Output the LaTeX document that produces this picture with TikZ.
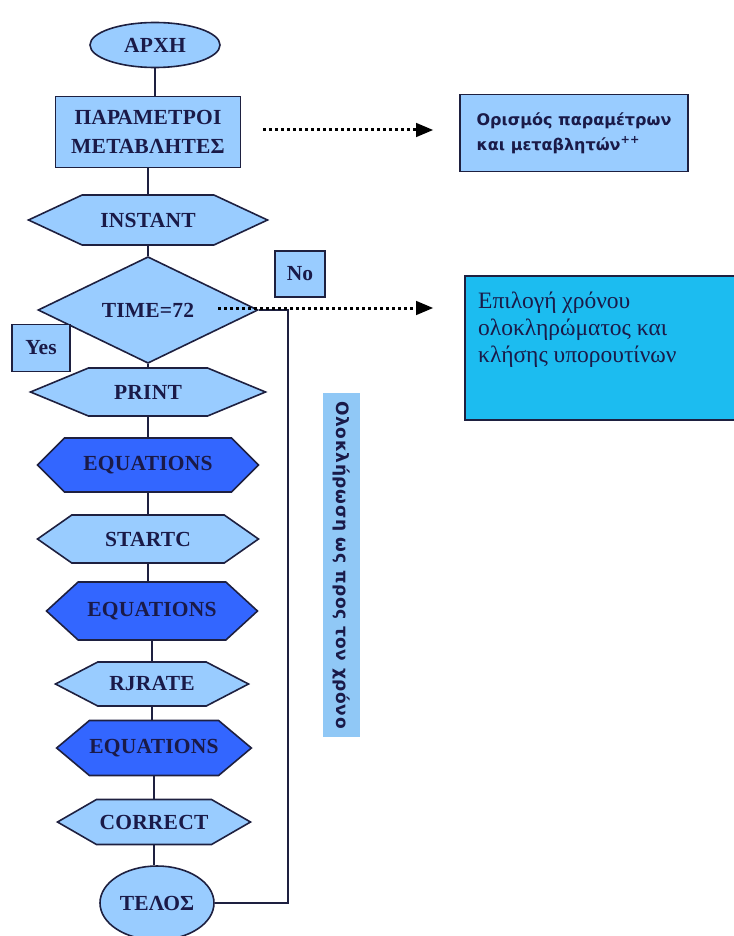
\documentclass[tikz,border=0pt]{standalone}
\usepackage{fontspec}
\setmainfont{Liberation Serif}
\newfontfamily\chainfont[LetterSpace=1]{Liberation Serif}
\newfontfamily\notefont{DejaVu Sans}
\newfontfamily\spanfont[LetterSpace=4]{DejaVu Sans}
\usetikzlibrary{shapes.geometric,shapes.symbols,arrows}
\definecolor{lightblue}{HTML}{99CCFF}
\definecolor{barblue}{HTML}{90C8F6}
\definecolor{deepblue}{HTML}{3366FF}
\definecolor{skycyan}{HTML}{1CBCF0}
\definecolor{edgenavy}{HTML}{1E2040}
\definecolor{textnavy}{HTML}{1A1A48}

\begin{document}
\begin{tikzpicture}[x=1pt, y=-1pt,
  every node/.style={text=textnavy, font=\chainfont\bfseries\fontsize{21.5}{29}\selectfont},
  base/.style={draw=edgenavy, line width=1.6pt, fill=lightblue, inner sep=0pt},
  term/.style={base, ellipse},
  proc/.style={base, rectangle, align=center},
  hexa/.style={base, signal, signal to=east and west},
  cond/.style={base, diamond},
  tag/.style={base, rectangle},
  line/.style={draw=edgenavy, line width=1.4pt},
  dotarrow/.style={line width=3pt, dash pattern=on 3pt off 3pt, -triangle 45}]
  \useasboundingbox (0,0) rectangle (733,936);

  % main chain
  \node[term, minimum width=130, minimum height=45] (start) at (155,45) {ΑΡΧΗ};
  \node[proc, minimum width=185, minimum height=71] (param) at (148,132) {ΠΑΡΑΜΕΤΡΟΙ\\ΜΕΤΑΒΛΗΤΕΣ};
  \node[hexa, minimum width=239, minimum height=50, signal pointer angle=50] (instant) at (148,220) {INSTANT};
  \node[cond, minimum width=220, minimum height=94] (time) at (148,310) {TIME=72};
  \node[hexa, minimum width=235, minimum height=48, signal pointer angle=45] (print) at (148,392) {PRINT};
  \node[hexa, fill=deepblue, minimum width=221, minimum height=54, signal pointer angle=90] (eqA) at (148,465) {EQUATIONS};
  \node[hexa, minimum width=221, minimum height=48, signal pointer angle=70] (startc) at (148,539) {STARTC};
  \node[hexa, fill=deepblue, minimum width=211, minimum height=58, signal pointer angle=85] (eqB) at (152,611) {EQUATIONS};
  \node[hexa, minimum width=193, minimum height=44, signal pointer angle=55] (rjrate) at (152,684) {RJRATE};
  \node[hexa, fill=deepblue, minimum width=193, minimum height=55, signal pointer angle=80] (eqC) at (154,748) {EQUATIONS};
  \node[hexa, minimum width=193, minimum height=45, signal pointer angle=60] (correct) at (154,822) {CORRECT};
  \node[term, minimum width=114, minimum height=74] (telos) at (157,903) {ΤΕΛΟΣ};

  % branch tags
  \node[tag, minimum width=50, minimum height=46] (no) at (300,274) {No};
  \node[tag, minimum width=58, minimum height=47] (yes) at (41,348) {Yes};

  % notes on the right
  \node[base, minimum width=228, minimum height=77, align=left,
        font=\notefont\bfseries\fontsize{16}{25}\selectfont] (defs) at (574,133)
        {Ορισμός παραμέτρων\\και μεταβλητών\textsuperscript{++}};
  \node[base, fill=skycyan, minimum width=271, minimum height=144] (choicebox) at (600.5,348) {};
  \node[anchor=north west, align=left, inner sep=0pt,
        font=\rmfamily\fontsize{23.5}{27}\selectfont] (choice) at (478,292)
        {Επιλογή χρόνου\\ολοκληρώματος και\\κλήσης υπορουτίνων};
  \node[fill=barblue, rotate=-90, minimum width=344, minimum height=37, inner sep=0pt,
        font=\spanfont\bfseries\fontsize{17}{18}\selectfont] (span) at (341.5,565)
        {Ολοκλήρωση ως προς τον χρόνο};

  \coordinate (loop) at (288,310);
  \coordinate (dotA) at (263,130);
  \coordinate (tipA) at (433,130);
  \coordinate (dotB) at (218,308);
  \coordinate (tipB) at (433,308);

  \path[line]
  (start.south) edge (start.south |- param.north)
  (param.south) edge (param.south |- instant.north)
  (instant.south) edge (instant.south |- time.north)
  (time.south) edge (time.south |- print.north)
  (print.south) edge (print.south |- eqA.north)
  (eqA.south) edge (eqA.south |- startc.north)
  (startc.south) edge (startc.south |- eqB.north)
  (eqB.south) edge (eqB.south |- rjrate.north)
  (rjrate.south) edge (rjrate.south |- eqC.north)
  (eqC.south) edge (eqC.south |- correct.north)
  (correct.south) edge (correct.south |- telos.north)
  ;
  \draw[line] (time.east) -- (loop) |- (telos.east);

  \draw[dotarrow] (dotA) -- (tipA);
  \draw[dotarrow] (dotB) -- (tipB);
\end{tikzpicture}
\end{document}
